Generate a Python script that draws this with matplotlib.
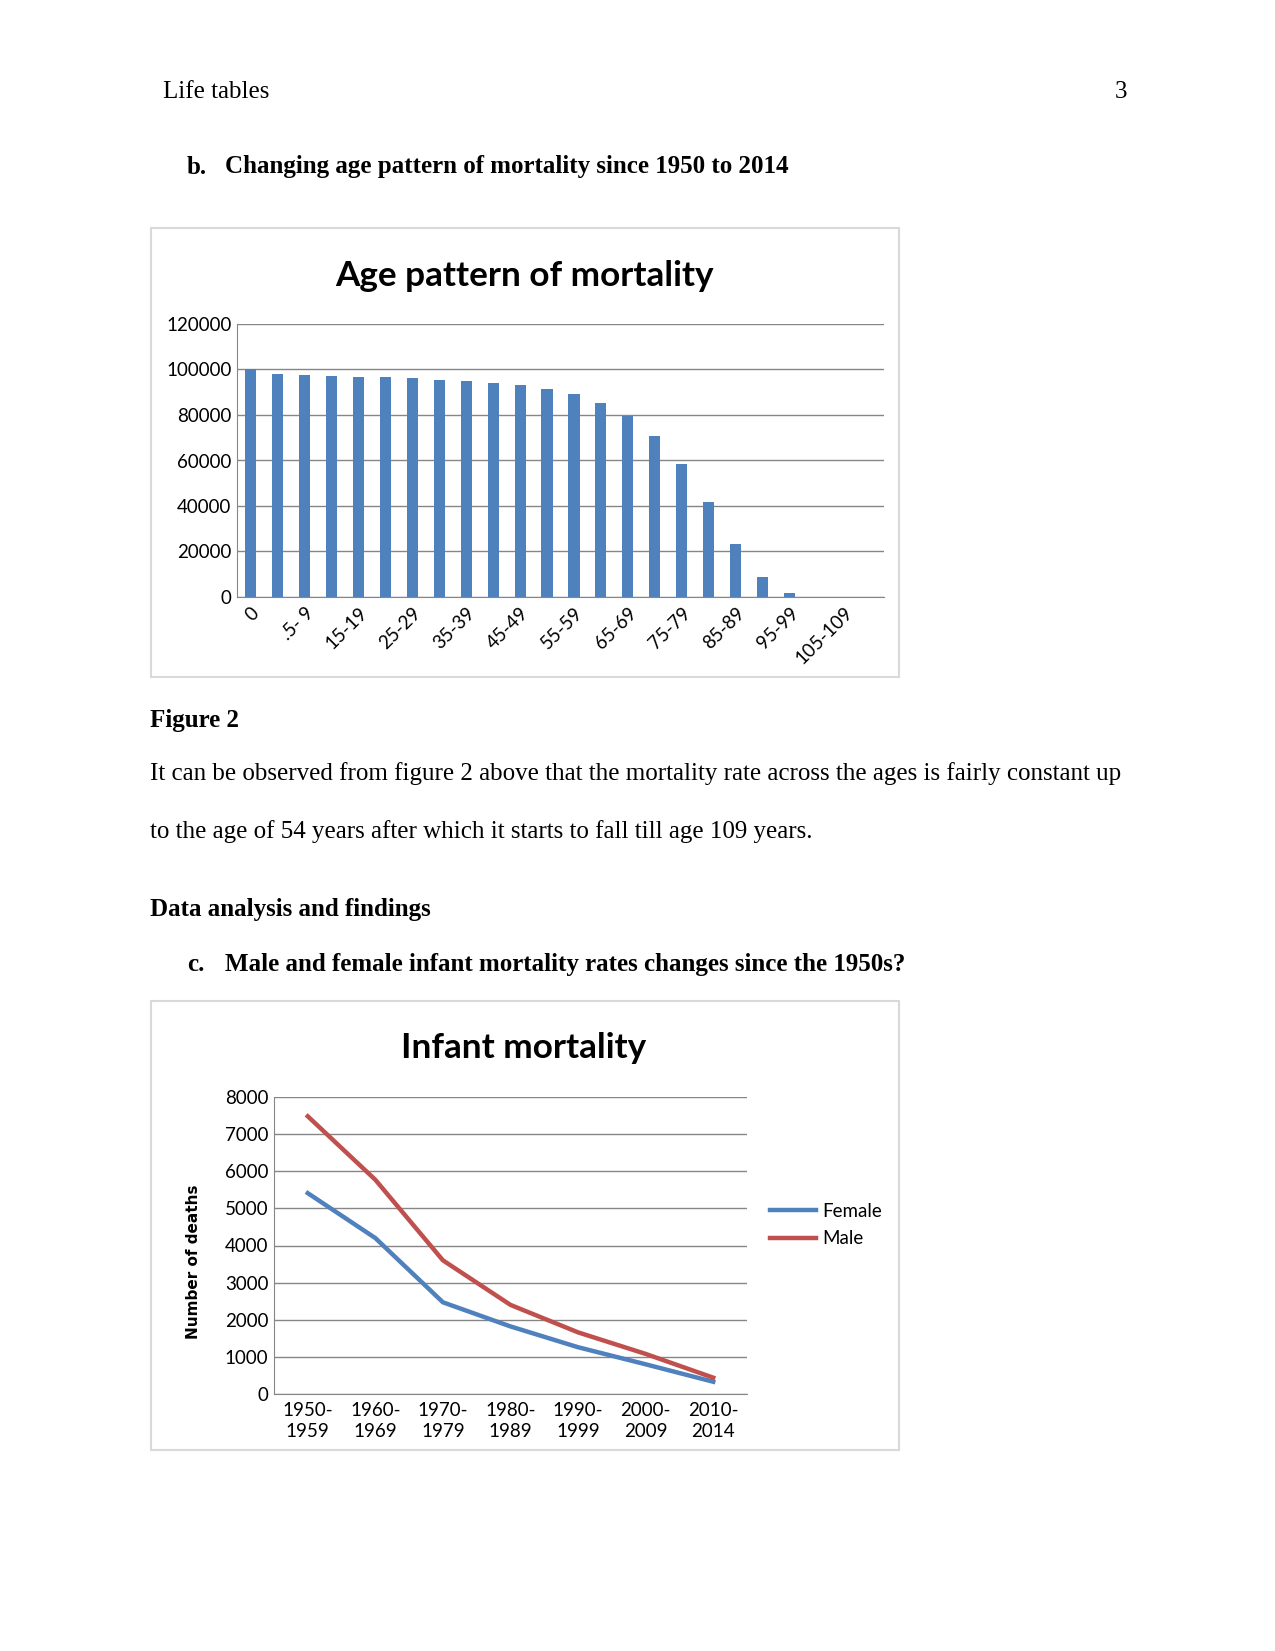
import matplotlib.pyplot as plt
from matplotlib.patches import Rectangle

W, H = 1275, 1651

age_groups = ['0', '1-4', '.5- 9', '10-14', '15-19', '20-24', '25-29', '30-34', '35-39',
              '40-44', '45-49', '50-54', '55-59', '60-64', '65-69', '70-74', '75-79',
              '80-84', '85-89', '90-94', '95-99', '100-104', '105-109', '110+']
survivors = [100000, 98000, 97500, 97100, 96600, 96600, 96200, 95300, 94900,
             94000, 93100, 91300, 89100, 85200, 79400, 70600, 58300,
             41600, 23500, 9000, 1900, 150, 5, 0]

periods = ['1950-\n1959', '1960-\n1969', '1970-\n1979', '1980-\n1989',
           '1990-\n1999', '2000-\n2009', '2010-\n2014']
female = [5410, 4200, 2470, 1820, 1260, 800, 330]
male = [7480, 5770, 3600, 2400, 1660, 1080, 440]

blue = '#4F81BD'
red = '#C0504D'
grid_c = '#868686'
serif = 'Liberation Serif'
sans = 'Lato'
body = 18


def fx(x):
    return x / W


def fy(y):
    return 1 - y / H


def box(ax_l, ax_t, ax_r, ax_b):
    return [fx(ax_l), fy(ax_b), fx(ax_r - ax_l), (ax_b - ax_t) / H]


def ptext(x, y, s, bold=False, ha='left'):
    fig.text(fx(x), fy(y), s, family=serif, fontsize=body, va='center', ha=ha,
             weight='bold' if bold else 'normal')


fig = plt.figure(figsize=(W / 100, H / 100), dpi=100)

# page text
ptext(163, 92, 'Life tables')
ptext(1127, 92, '3', ha='right')
ptext(187, 167, 'b.', bold=True)
ptext(225, 167, 'Changing age pattern of mortality since 1950 to 2014', bold=True)
ptext(150, 720, 'Figure 2', bold=True)
ptext(150, 774, 'It can be observed from figure 2 above that the mortality rate across '
      'the ages is fairly constant up')
ptext(150, 832, 'to the age of 54 years after which it starts to fall till age 109 years.')
ptext(150, 909, 'Data analysis and findings', bold=True)
ptext(187, 964, 'c.', bold=True)
ptext(225, 964, 'Male and female infant mortality rates changes since the 1950s?', bold=True)

# chart frames
for (l, t, r, b) in [(150.5, 228, 899, 677), (150.5, 1001, 899, 1450)]:
    fig.patches.append(Rectangle((fx(l), fy(b)), fx(r - l), (b - t) / H,
                                 transform=fig.transFigure, fill=False,
                                 edgecolor='#d9d9d9', lw=1.5))

# ---- bar chart ----
ax1 = fig.add_axes(box(237, 324, 884, 597))
ax1.bar(range(len(survivors)), survivors, width=0.41, color=blue, zorder=3)
ax1.set_xlim(-0.5, len(survivors) - 0.5)
ax1.set_ylim(0, 120000)
ax1.set_yticks(range(0, 120001, 20000))
ax1.yaxis.grid(True, color=grid_c, lw=1)
ax1.set_xticks(range(0, len(age_groups), 2))
ax1.set_xticklabels(age_groups[::2], rotation=45, ha='right', va='top',
                    rotation_mode='anchor', family=sans, fontsize=13.5)
for lab in ax1.get_yticklabels():
    lab.set_family(sans)
    lab.set_fontsize(13.5)
ax1.tick_params(axis='y', length=0, pad=4)
ax1.tick_params(axis='x', length=0, pad=5)
for s in ['top', 'right']:
    ax1.spines[s].set_visible(False)
for s in ['left', 'bottom']:
    ax1.spines[s].set_color(grid_c)
fig.text(fx(524), fy(276), 'Age pattern of mortality', family=sans, weight='bold',
         fontsize=25.3, ha='center', va='center')

# ---- line chart ----
ax2 = fig.add_axes(box(274, 1097, 747, 1394))
x = range(len(periods))
ax2.plot(x, female, color=blue, lw=3.2, label='Female', zorder=3)
ax2.plot(x, male, color=red, lw=3.2, label='Male', zorder=3)
ax2.set_xlim(-0.5, len(periods) - 0.5)
ax2.set_ylim(0, 8000)
ax2.set_yticks(range(0, 8001, 1000))
ax2.yaxis.grid(True, color=grid_c, lw=1)
ax2.set_xticks(list(x))
ax2.set_xticklabels(periods, family=sans, fontsize=13.5, linespacing=1.25)
for lab in ax2.get_yticklabels():
    lab.set_family(sans)
    lab.set_fontsize(13.5)
ax2.tick_params(axis='y', length=0, pad=4)
ax2.tick_params(axis='x', length=0, pad=6)
for s in ['top', 'right']:
    ax2.spines[s].set_visible(False)
for s in ['left', 'bottom']:
    ax2.spines[s].set_color(grid_c)
fig.text(fx(193), fy(1262), 'Number of deaths', family='DejaVu Sans', weight='bold',
         fontsize=11, rotation=90, ha='center', va='center')
fig.text(fx(524), fy(1048), 'Infant mortality', family=sans, weight='bold',
         fontsize=25.3, ha='center', va='center')
ax2.legend(loc='center left', bbox_to_anchor=(fx(770), fy(1225)),
           bbox_transform=fig.transFigure, frameon=False,
           prop={'family': sans, 'size': 13.5}, handlelength=2.45,
           handletextpad=0.35, labelspacing=0.55, borderpad=0, borderaxespad=0)

fig.savefig('out.png', dpi=100)
